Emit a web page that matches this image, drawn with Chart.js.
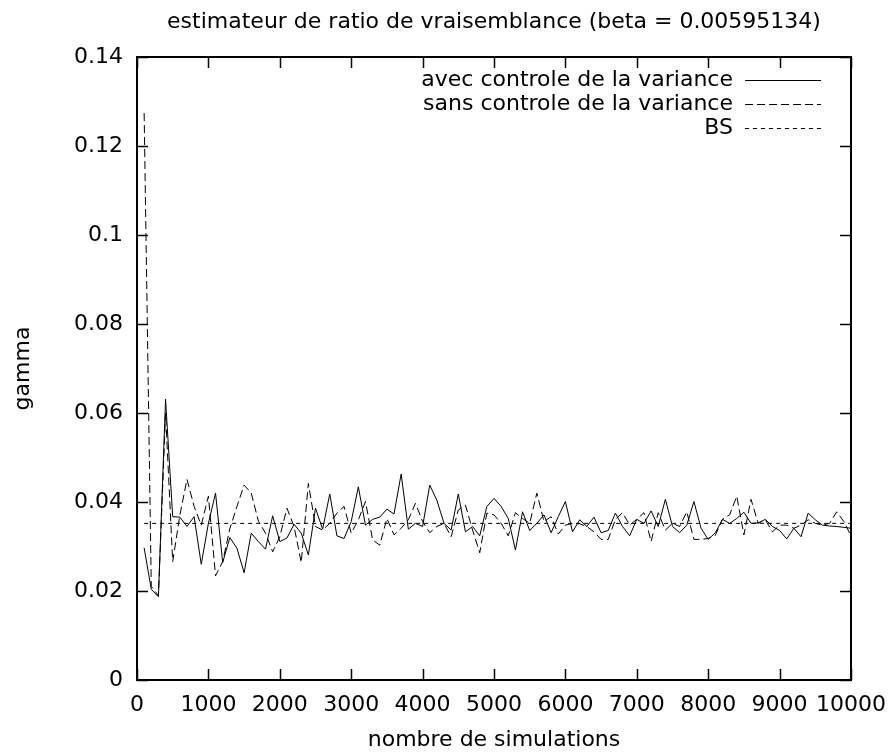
<!DOCTYPE html>
<html><head><meta charset="utf-8">
<script src="https://cdn.jsdelivr.net/npm/chart.js@4/dist/chart.umd.min.js"></script>
<style>html,body{margin:0;padding:0;background:#fff;}</style>
</head><body>
<canvas id="c" width="893" height="754"></canvas>
<script>
const titleText = 'estimateur de ratio de vraisemblance (beta = 0.00595134)';
const xAxisTitle = 'nombre de simulations';
const yAxisTitle = 'gamma';
const seriesLabels = ['avec controle de la variance', 'sans controle de la variance', 'BS'];

const simulations = [100,200,300,400,500,600,700,800,900,1000,
1100,1200,1300,1400,1500,1600,1700,1800,1900,2000,
2100,2200,2300,2400,2500,2600,2700,2800,2900,3000,
3100,3200,3300,3400,3500,3600,3700,3800,3900,4000,
4100,4200,4300,4400,4500,4600,4700,4800,4900,5000,
5100,5200,5300,5400,5500,5600,5700,5800,5900,6000,
6100,6200,6300,6400,6500,6600,6700,6800,6900,7000,
7100,7200,7300,7400,7500,7600,7700,7800,7900,8000,
8100,8200,8300,8400,8500,8600,8700,8800,8900,9000,
9100,9200,9300,9400,9500,9600,9700,9800,9900,10000];

const avecControle = [0.0297,0.0204,0.0187,0.0631,0.0367,0.0366,0.0345,0.0367,0.0260,0.0352,
0.0420,0.0264,0.0320,0.0296,0.0241,0.0330,0.0311,0.0294,0.0369,0.0311,
0.0319,0.0350,0.0330,0.0281,0.0386,0.0339,0.0418,0.0324,0.0318,0.0356,
0.0434,0.0348,0.0361,0.0366,0.0384,0.0373,0.0463,0.0339,0.0352,0.0345,
0.0438,0.0404,0.0352,0.0337,0.0418,0.0333,0.0345,0.0324,0.0390,0.0408,
0.0390,0.0363,0.0292,0.0378,0.0336,0.0352,0.0371,0.0331,0.0367,0.0401,
0.0333,0.0360,0.0345,0.0366,0.0331,0.0336,0.0375,0.0345,0.0324,0.0361,
0.0352,0.0380,0.0345,0.0406,0.0345,0.0331,0.0348,0.0401,0.0341,0.0316,
0.0331,0.0361,0.0352,0.0363,0.0377,0.0352,0.0353,0.0361,0.0345,0.0336,
0.0317,0.0341,0.0322,0.0375,0.0360,0.0348,0.0346,0.0345,0.0343,0.0341];

const sansControle = [0.1274,0.0210,0.0190,0.0600,0.0266,0.0370,0.0451,0.0390,0.0348,0.0413,
0.0234,0.0266,0.0340,0.0390,0.0438,0.0420,0.0357,0.0330,0.0288,0.0322,
0.0386,0.0345,0.0264,0.0442,0.0345,0.0337,0.0352,0.0375,0.0390,0.0330,
0.0360,0.0401,0.0315,0.0303,0.0363,0.0326,0.0341,0.0360,0.0397,0.0356,
0.0331,0.0345,0.0352,0.0322,0.0382,0.0393,0.0337,0.0286,0.0375,0.0371,
0.0352,0.0324,0.0376,0.0363,0.0352,0.0420,0.0356,0.0367,0.0328,0.0348,
0.0352,0.0351,0.0345,0.0333,0.0316,0.0316,0.0361,0.0376,0.0348,0.0361,
0.0376,0.0311,0.0376,0.0337,0.0352,0.0345,0.0378,0.0316,0.0316,0.0318,
0.0325,0.0361,0.0371,0.0413,0.0326,0.0406,0.0352,0.0360,0.0333,0.0348,
0.0348,0.0341,0.0348,0.0360,0.0352,0.0348,0.0352,0.0378,0.0356,0.0324];

const bsValue = 0.0352;

const xTicks = [0,1000,2000,3000,4000,5000,6000,7000,8000,9000,10000];
const yTicks = [0,0.02,0.04,0.06,0.08,0.1,0.12,0.14];

const FONT_FAMILY = '"DejaVu Sans", "Liberation Sans", Arial, sans-serif';
const FONT_SIZE = 22;

const toPoints = (xs, ys) => xs.map((x, i) => ({x: x, y: ys[i]}));

const frameTicksPlugin = {
  id: 'frameTicks',
  afterDatasetsDraw(chart) {
    const {ctx, chartArea: a, scales: {x, y}} = chart;
    const len = 11;
    ctx.save();
    ctx.strokeStyle = '#000';
    ctx.lineWidth = 1.5;
    ctx.beginPath();
    xTicks.forEach(v => {
      const px = Math.round(x.getPixelForValue(v)) + 0.5;
      ctx.moveTo(px, a.bottom); ctx.lineTo(px, a.bottom - len);
      ctx.moveTo(px, a.top); ctx.lineTo(px, a.top + len);
    });
    yTicks.forEach(v => {
      const py = Math.round(y.getPixelForValue(v)) + 0.5;
      ctx.moveTo(a.left, py); ctx.lineTo(a.left + len, py);
      ctx.moveTo(a.right, py); ctx.lineTo(a.right - len, py);
    });
    ctx.stroke();
    ctx.lineWidth = 2;
    ctx.strokeRect(a.left, a.top, a.right - a.left, a.bottom - a.top);
    ctx.restore();
  }
};

const titleKeyPlugin = {
  id: 'gnuTitleKey',
  afterDraw(chart) {
    const {ctx, chartArea: a} = chart;
    ctx.save();
    ctx.font = FONT_SIZE + 'px ' + FONT_FAMILY;
    ctx.fillStyle = '#000';
    ctx.textBaseline = 'middle';
    ctx.textAlign = 'center';
    ctx.fillText(titleText, (a.left + a.right) / 2, a.top - 35);
    ctx.textAlign = 'right';
    chart.data.datasets.forEach((ds, i) => {
      const yy = a.top + 23 + i * 24;
      ctx.fillText(ds.label, a.right - 118, yy);
      ctx.strokeStyle = ds.borderColor;
      ctx.lineWidth = ds.borderWidth;
      ctx.setLineDash(ds.borderDash || []);
      ctx.beginPath();
      ctx.moveTo(a.right - 106, Math.round(yy) + 0.5);
      ctx.lineTo(a.right - 30, Math.round(yy) + 0.5);
      ctx.stroke();
    });
    ctx.restore();
  }
};

new Chart(document.getElementById('c'), {
  type: 'line',
  data: {
    datasets: [
      {label: seriesLabels[0], data: toPoints(simulations, avecControle), borderColor: '#000', borderWidth: 1, pointRadius: 0, borderDash: [], tension: 0, fill: false},
      {label: seriesLabels[1], data: toPoints(simulations, sansControle), borderColor: '#000', borderWidth: 1, pointRadius: 0, borderDash: [8, 4], tension: 0, fill: false},
      {label: seriesLabels[2], data: [{x: simulations[0], y: bsValue}, {x: simulations[simulations.length - 1], y: bsValue}], borderColor: '#000', borderWidth: 1, pointRadius: 0, borderDash: [4, 4], tension: 0, fill: false}
    ]
  },
  options: {
    responsive: false,
    animation: false,
    devicePixelRatio: 1,
    layout: {padding: {top: 57, right: 42, bottom: 0, left: 0}},
    plugins: {
      legend: {display: false},
      tooltip: {enabled: false},
      title: {display: false}
    },
    scales: {
      x: {
        type: 'linear', min: 0, max: 10000,
        afterBuildTicks: s => { s.ticks = xTicks.map(v => ({value: v})); },
        afterFit: s => { s.height = 74; s.paddingRight = 0; s.paddingLeft = 0; },
        grid: {display: false, drawTicks: false, tickLength: 0},
        border: {display: false},
        ticks: {color: '#000', font: {family: FONT_FAMILY, size: FONT_SIZE}, padding: 12, maxRotation: 0, autoSkip: false,
          callback: v => String(v)},
        title: {display: true, text: xAxisTitle, color: '#000', font: {family: FONT_FAMILY, size: FONT_SIZE}, padding: {top: 0, bottom: 1}}
      },
      y: {
        type: 'linear', min: 0, max: 0.14,
        afterBuildTicks: s => { s.ticks = yTicks.map(v => ({value: v})); },
        afterFit: s => { s.width = 137; s.paddingTop = 0; s.paddingBottom = 0; },
        grid: {display: false, drawTicks: false, tickLength: 0},
        border: {display: false},
        ticks: {color: '#000', font: {family: FONT_FAMILY, size: FONT_SIZE}, padding: 14, autoSkip: false,
          callback: v => String(Number(v.toFixed(2)))},
        title: {display: true, text: yAxisTitle, color: '#000', font: {family: FONT_FAMILY, size: FONT_SIZE}, padding: {top: 10, bottom: 0}}
      }
    }
  },
  plugins: [frameTicksPlugin, titleKeyPlugin]
});
</script>
</body></html>
